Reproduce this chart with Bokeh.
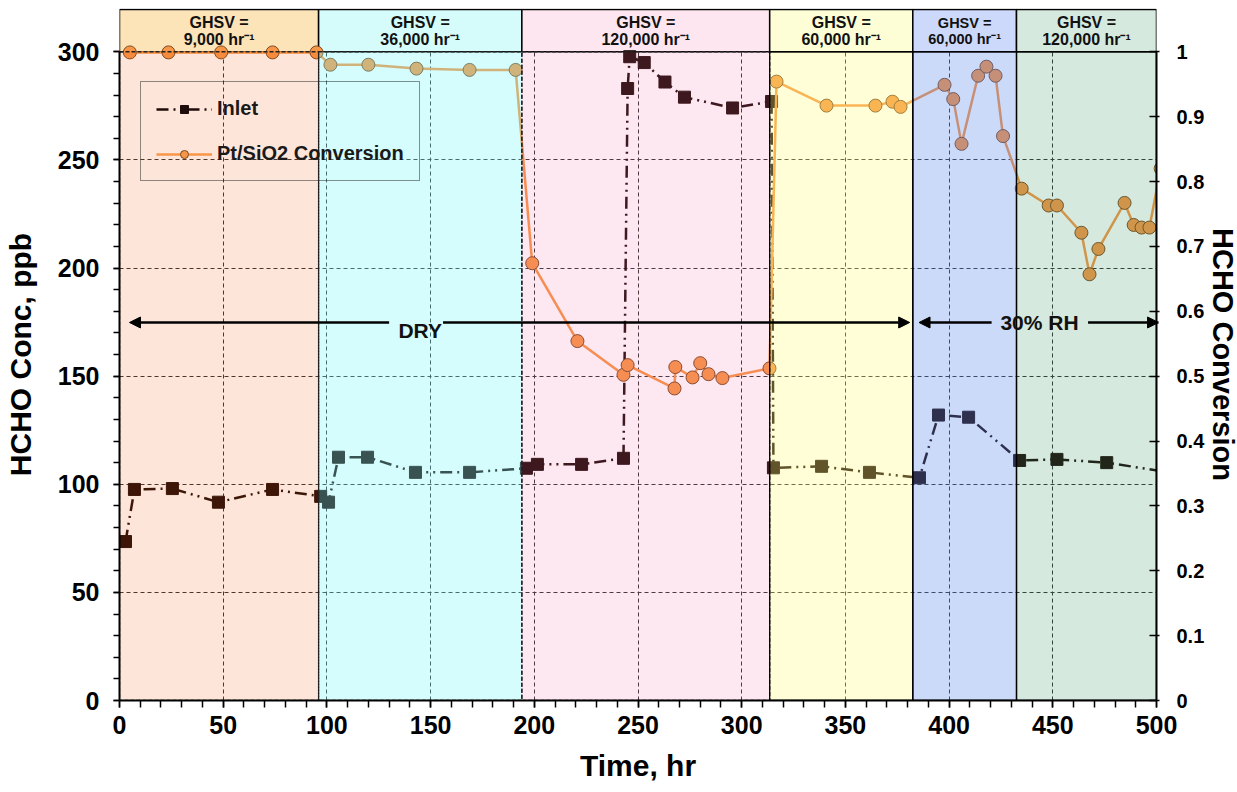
from bokeh.plotting import figure
from bokeh.models import (Range1d, LinearAxis, FixedTicker, CustomJSTickFormatter,
                          Arrow, NormalHead, Legend, LegendItem)
from bokeh.core.properties import value
from bokeh.embed import file_html
from bokeh.resources import INLINE

FONT = "Liberation Sans"

# Inlet HCHO concentration (ppb) vs time on stream (hr)
inlet_hr = [2.9, 7.2, 25.5, 47.7, 73.8, 97.0, 100.8, 105.6, 119.6, 142.7, 168.8,
            196.2, 201.5, 222.8, 243.0, 245.0, 246.0, 253.0, 263.0, 272.4, 295.6,
            314.4, 315.3, 338.5, 361.6, 385.7, 394.9, 409.4, 434.0, 452.0, 476.0, 510.0]
inlet_ppb = [73.5, 97.6, 98.0, 91.7, 97.6, 94.4, 91.7, 112.5, 112.5, 105.5, 105.5,
             107.4, 109.2, 109.2, 112.0, 283.0, 297.7, 295.0, 286.0, 279.0, 274.0,
             277.0, 107.6, 108.3, 105.5, 103.0, 132.0, 131.0, 111.0, 111.5, 110.0, 104.9]

# Pt/SiO2 HCHO conversion (fraction) vs time on stream (hr)
conv_hr = [5.0, 23.6, 49.0, 73.8, 95.0, 101.7, 120.0, 143.2, 168.8, 191.0,
           199.0, 220.8, 243.0, 245.0, 267.6, 268.0, 276.3, 280.0, 284.0, 290.7, 313.4,
           316.8, 340.9, 364.5, 372.7, 376.6,
           397.8, 402.0, 406.0, 414.0, 418.0, 422.4, 426.0,
           435.0, 448.0, 452.0, 463.8, 467.7, 472.0, 484.6, 489.0, 492.8, 496.6, 502.0]
conversion = [0.999, 0.999, 0.999, 0.999, 0.999, 0.980, 0.980, 0.974, 0.972, 0.972,
              0.674, 0.554, 0.502, 0.517, 0.481, 0.514, 0.498, 0.520, 0.503, 0.497, 0.512,
              0.954, 0.917, 0.917, 0.923, 0.915,
              0.949, 0.927, 0.858, 0.963, 0.977, 0.963, 0.870,
              0.789, 0.763, 0.763, 0.721, 0.657, 0.696, 0.767, 0.733, 0.729, 0.729, 0.82]

# GHSV periods
period_start = [0, 96, 194, 313.5, 382.5, 432.5]
period_end = [96, 194, 313.5, 382.5, 432.5, 500]
period_rate = ["9,000 hr⁻¹", "36,000 hr⁻¹", "120,000 hr⁻¹",
               "60,000 hr⁻¹", "60,000 hr⁻¹", "120,000 hr⁻¹"]
header_colors = ["#FDE3B8", "#D6FBFB", "#FDE6F0", "#FEFED6", "#CCD9FA", "#D6E9DE"]
shade_colors = ["#F25200", "#76F8F8", "#F25F9B", "#FFFC76", "#5584EE", "#32915A"]
shade_alpha = [0.15, 0.3, 0.15, 0.3, 0.3, 0.2]
header_size = ["16px", "16px", "16px", "16px", "14.5px", "16px"]

# humidity conditions
humidity_label = ["DRY", "30% RH"]
humidity_x = [145, 443.6]

p = figure(frame_width=1037, frame_height=692,
           x_range=Range1d(0, 500), y_range=Range1d(0, 320),
           output_backend="svg", toolbar_location=None,
           min_border_left=118, min_border_right=70,
           min_border_top=8, min_border_bottom=84,
           outline_line_color=None, background_fill_color="white")
p.extra_y_ranges = {"conv": Range1d(0, 320 / 300)}

# axes
x_ticker = FixedTicker(ticks=list(range(0, 501, 50)), minor_ticks=list(range(0, 501, 10)))
y_ticker = FixedTicker(ticks=list(range(0, 301, 50)), minor_ticks=list(range(0, 301, 10)))
p.xaxis.ticker = x_ticker
p.xgrid.ticker = x_ticker
p.yaxis.ticker = y_ticker
p.ygrid.ticker = y_ticker

for ax in (p.xaxis[0], p.yaxis[0]):
    ax.axis_label_text_font = FONT
    ax.axis_label_text_font_style = "bold"
    ax.axis_label_text_font_size = "30px"
    ax.axis_label_text_color = "black"
    ax.major_label_text_font = FONT
    ax.major_label_text_font_style = "bold"
    ax.major_label_text_font_size = "25px"
    ax.major_label_text_color = "black"
    ax.axis_line_width = 2
    ax.axis_line_color = "black"
    ax.major_tick_line_color = "black"
    ax.minor_tick_line_color = "black"
    ax.major_tick_line_width = 1.5
    ax.minor_tick_line_width = 1.5
    ax.major_tick_in = 0
    ax.minor_tick_in = 0

p.xaxis.axis_label = "Time, hr"
p.xaxis.major_tick_out = 7
p.xaxis.minor_tick_out = 7
p.xaxis.major_label_standoff = 8
p.xaxis.axis_label_standoff = 12

p.yaxis.axis_label = "HCHO Conc, ppb"
p.yaxis.bounds = (0, 300)
p.yaxis.major_tick_out = 6
p.yaxis.minor_tick_out = 6
p.yaxis.major_label_standoff = 14
p.yaxis.axis_label_standoff = 18

right = LinearAxis(y_range_name="conv", axis_label="HCHO Conversion", bounds=(0, 1),
                   ticker=FixedTicker(ticks=[i / 10 for i in range(11)], minor_ticks=[]),
                   formatter=CustomJSTickFormatter(code="return String(Math.round(tick*10)/10)"))
right.axis_label_text_font = FONT
right.axis_label_text_font_style = "bold"
right.axis_label_text_font_size = "29px"
right.axis_label_text_color = "black"
right.major_label_text_font = FONT
right.major_label_text_font_style = "bold"
right.major_label_text_font_size = "20px"
right.major_label_text_color = "black"
right.axis_line_width = 2
right.major_tick_line_width = 1.5
right.major_tick_in = 7
right.major_tick_out = 3
right.major_label_standoff = 17
right.axis_label_standoff = 0
p.add_layout(right, "right")

for g in (p.xgrid[0], p.ygrid[0]):
    g.grid_line_color = "#333333"
    g.grid_line_dash = "4 3"
    g.grid_line_width = 1

# GHSV header boxes above the plot
p.quad(left=period_start, right=period_end, bottom=[300] * 6, top=[319.5] * 6,
       fill_color=header_colors, line_color="black", line_width=1.5)
header_mid = [(a + b) / 2 for a, b in zip(period_start, period_end)]
p.text(x=header_mid, y=[313.3] * 6, text=["GHSV ="] * 6, text_font=value(FONT),
       text_font_style="bold", text_font_size=header_size, text_color="#111111",
       text_align="center", text_baseline="middle")
p.text(x=header_mid, y=[305.8] * 6, text=period_rate, text_font=value(FONT),
       text_font_style="bold", text_font_size=header_size, text_color="#111111",
       text_align="center", text_baseline="middle")

# data
inlet_line = p.line(inlet_hr, inlet_ppb, line_color="#1E0C0A", line_width=2.5,
                    line_dash="12 5 2 5 2 5")
inlet_pts = p.scatter(inlet_hr, inlet_ppb, marker="square", size=12,
                      fill_color="#1E0C0A", line_color="#1E0C0A")
conv_line = p.line(conv_hr, conversion, y_range_name="conv", line_color="#F79646",
                   line_width=2.5)
conv_pts = p.scatter(conv_hr, conversion, y_range_name="conv", marker="circle", size=13,
                     fill_color="#F79646", line_color="#7A4A24", line_width=1)

# translucent period shading drawn over the data
p.quad(left=period_start, right=period_end, bottom=[0] * 6, top=[300] * 6,
       fill_color=shade_colors, fill_alpha=shade_alpha, line_color=None)
p.quad(left=period_start[:3], right=period_end[:3], bottom=[0] * 3, top=[300] * 3,
       fill_color=None, line_color="#222222", line_width=1.3, line_dash="4 2")
p.quad(left=period_start[3:], right=period_end[3:], bottom=[0] * 3, top=[300] * 3,
       fill_color=None, line_color="black", line_width=1.3)

# humidity arrows
arrow_y = 174.8
head = dict(size=11, fill_color="black", line_color="black")
for xs, xe in [(130, 4.8), (156, 381), (420.5, 385.5), (467, 501)]:
    p.add_layout(Arrow(end=NormalHead(**head), x_start=xs, y_start=arrow_y,
                       x_end=xe, y_end=arrow_y, line_width=2.5, line_color="black"))
p.text(x=humidity_x, y=[171.1, 175.0], text=humidity_label, text_font=value(FONT),
       text_font_style="bold", text_font_size="21px", text_color="#111111",
       text_align="center", text_baseline="middle")

legend = Legend(items=[LegendItem(label="Inlet", renderers=[inlet_line, inlet_pts]),
                       LegendItem(label="Pt/SiO2 Conversion", renderers=[conv_line, conv_pts])],
                location=(21, 519), background_fill_alpha=0,
                border_line_color="#222222", border_line_width=1.5,
                label_text_font=FONT, label_text_font_style="bold",
                label_text_font_size="20px", label_text_color="#1A1A1A",
                glyph_width=56, glyph_height=20, label_standoff=5,
                padding=15, spacing=22, margin=0)
p.add_layout(legend)

open("out.html", "w").write(file_html(p, INLINE))
